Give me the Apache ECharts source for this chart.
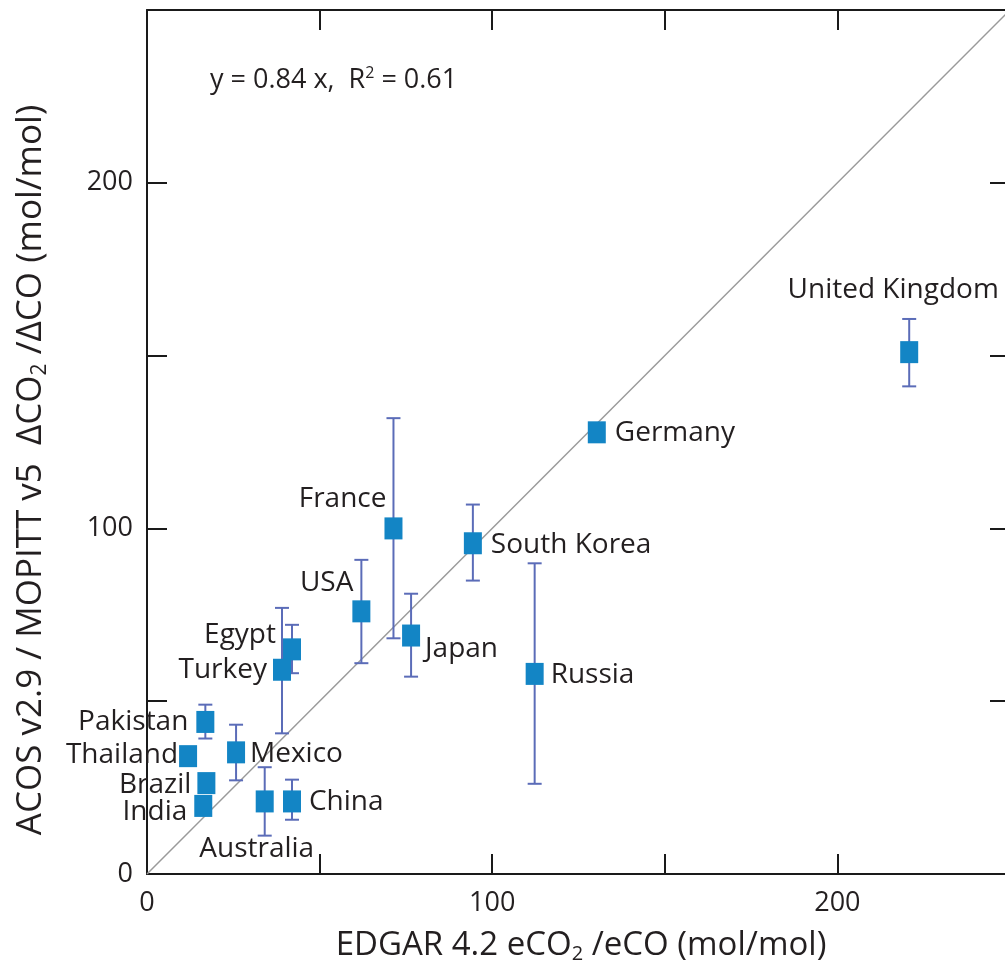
<!DOCTYPE html>
<html>
<head>
<meta charset="utf-8">
<script src="https://cdn.jsdelivr.net/npm/echarts@6/dist/echarts.min.js"></script>
<style>
  html, body { margin: 0; padding: 0; background: #fff; }
  #chart { width: 1005px; height: 974px; }
</style>
</head>
<body>
<div id="chart"></div>
<script>
// Country ratios: EDGAR emission ratio (x) vs. satellite enhancement ratio (y)
const countries = ['United Kingdom', 'Germany', 'France', 'South Korea', 'USA', 'Japan', 'Russia',
  'Egypt', 'Turkey', 'Pakistan', 'Thailand', 'Mexico', 'Brazil', 'India', 'Australia', 'China'];
const edgarRatio = [220.8, 130.3, 71.4, 94.4, 62.1, 76.5, 112.3, 42.0, 39.1, 16.9, 11.9, 25.8, 17.2, 16.3, 34.1, 42.0];
const satRatio   = [151.0, 127.8, 100.0, 95.7, 76.0, 69.0, 57.9, 65.0, 59.1, 44.0, 34.1, 35.2, 26.3, 19.7, 21.0, 21.0];
const satLow     = [141.1, 125.5, 68.2, 84.9, 61.0, 57.1, 26.1, 58.1, 40.7, 39.2, 33.2, 27.1, 25.0, 18.5, 11.1, 15.7];
const satHigh    = [160.6, 130.0, 131.9, 106.9, 90.9, 81.1, 89.9, 72.1, 77.0, 49.0, 35.0, 43.2, 27.6, 20.9, 30.9, 27.3];

// 1:1 reference line end points
const oneToOne = [[0, 0], [250, 250]];

// Axis ticks
const axisMin = 0, axisMax = 250, tickStep = 50;
const labelledTicks = [0, 100, 200];

// Label placement next to each marker: alignment and pixel offset from marker centre
const labelPlace = {
  'United Kingdom': ['center', -16, -62],
  'Germany': ['left', 18, 1],
  'France': ['right', -7, -29],
  'South Korea': ['left', 18, 2],
  'USA': ['right', -8, -28],
  'Japan': ['left', 14, 13],
  'Russia': ['left', 16, 1],
  'Egypt': ['right', -16, -14],
  'Turkey': ['right', -15, 0],
  'Pakistan': ['right', -17, 0],
  'Thailand': ['right', -10, -1],
  'Mexico': ['left', 14, 2],
  'Brazil': ['right', -15, 2],
  'India': ['right', -16, 6],
  'Australia': ['center', -8, 48],
  'China': ['left', 17, 1]
};

const FONT = '"Open Sans", "Noto Sans", sans-serif';
const TEXT = '#231f20';
const MARKER = '#1385c5';
const ERRBAR = '#5b6cb8';

const points = countries.map((c, i) => {
  const p = labelPlace[c];
  return {
    name: c,
    value: [edgarRatio[i], satRatio[i]],
    label: { align: p[0], offset: [p[1], p[2]] }
  };
});
const bars = countries.map((c, i) => [edgarRatio[i], satLow[i], satHigh[i]]);

const tickLabel = v => (labelledTicks.indexOf(v) >= 0 ? String(v) : '');

const axisCommon = {
  type: 'value', min: axisMin, max: axisMax, interval: tickStep,
  splitLine: { show: false },
  axisLine: { show: true, onZero: false, lineStyle: { color: '#1a1a1a', width: 2 } },
  axisTick: { show: true, inside: true, length: 20, lineStyle: { color: '#1a1a1a', width: 2 } }
};

const titleRich = {
  t: { fontSize: 33, fontFamily: FONT, fill: TEXT, color: TEXT },
  s: { fontSize: 20, fontFamily: FONT, fill: TEXT, color: TEXT, padding: [17, 0, 0, 0] }
};
const yTitleRich = {
  t: { fontSize: 35, fontFamily: FONT, fill: TEXT, color: TEXT },
  s: { fontSize: 21, fontFamily: FONT, fill: TEXT, color: TEXT, padding: [18, 0, 0, 0] }
};

const chart = echarts.init(document.getElementById('chart'), null, { renderer: 'canvas' });
chart.setOption({
  animation: false,
  backgroundColor: '#fff',
  grid: { left: 147, top: 10, width: 863, height: 864, outerBoundsMode: 'none', containLabel: false },
  xAxis: [
    Object.assign({}, axisCommon, {
      position: 'bottom',
      axisLabel: { show: true, margin: 16, fontSize: 27, fontFamily: FONT, color: TEXT, formatter: tickLabel }
    }),
    Object.assign({}, axisCommon, { position: 'top', axisLabel: { show: false } })
  ],
  yAxis: [
    Object.assign({}, axisCommon, {
      position: 'left',
      axisLabel: { show: true, margin: 14, fontSize: 27, fontFamily: FONT, color: TEXT, formatter: tickLabel }
    }),
    Object.assign({}, axisCommon, { position: 'right', axisLabel: { show: false } })
  ],
  graphic: [
    {
      type: 'text', x: 581, y: 946,
      style: {
        text: '{t|EDGAR 4.2 eCO}{s|2}{t| /eCO (mol/mol)}',
        align: 'center', verticalAlign: 'middle',
        rich: titleRich
      }
    },
    {
      type: 'text', x: 31, y: 470, rotation: Math.PI / 2,
      style: {
        text: '{t|ACOS v2.9 / MOPITT v5  \u0394CO}{s|2}{t| /\u0394CO (mol/mol)}',
        align: 'center', verticalAlign: 'middle',
        rich: yTitleRich
      }
    },
    {
      type: 'text', x: 210, y: 80,
      style: {
        text: '{t|y = 0.84 x,  R}{p|2}{t| = 0.61}',
        align: 'left', verticalAlign: 'middle',
        rich: {
          t: { fontSize: 27, fontFamily: FONT, fill: TEXT, color: TEXT },
          p: { fontSize: 16, fontFamily: FONT, fill: TEXT, color: TEXT, padding: [0, 0, 13, 0] }
        }
      }
    }
  ],
  series: [
    {
      type: 'line',
      data: oneToOne,
      symbol: 'none',
      silent: true,
      lineStyle: { color: '#9a9a9a', width: 1.5 },
      z: 1
    },
    {
      type: 'custom',
      data: bars,
      silent: true,
      z: 2,
      renderItem: function (params, api) {
        const top = api.coord([api.value(0), api.value(2)]);
        const bot = api.coord([api.value(0), api.value(1)]);
        const half = 7;
        const st = { stroke: ERRBAR, lineWidth: 2 };
        return {
          type: 'group',
          children: [
            { type: 'line', shape: { x1: top[0], y1: top[1], x2: bot[0], y2: bot[1] }, style: st },
            { type: 'line', shape: { x1: top[0] - half, y1: top[1], x2: top[0] + half, y2: top[1] }, style: st },
            { type: 'line', shape: { x1: bot[0] - half, y1: bot[1], x2: bot[0] + half, y2: bot[1] }, style: st }
          ]
        };
      }
    },
    {
      type: 'scatter',
      data: points,
      symbol: 'rect',
      symbolSize: [18, 22],
      z: 3,
      itemStyle: { color: MARKER, opacity: 1 },
      label: {
        show: true,
        position: 'inside',
        verticalAlign: 'middle',
        formatter: '{b}',
        fontSize: 28,
        fontFamily: FONT,
        color: TEXT,
        opacity: 1
      }
    }
  ]
});
</script>
</body>
</html>
